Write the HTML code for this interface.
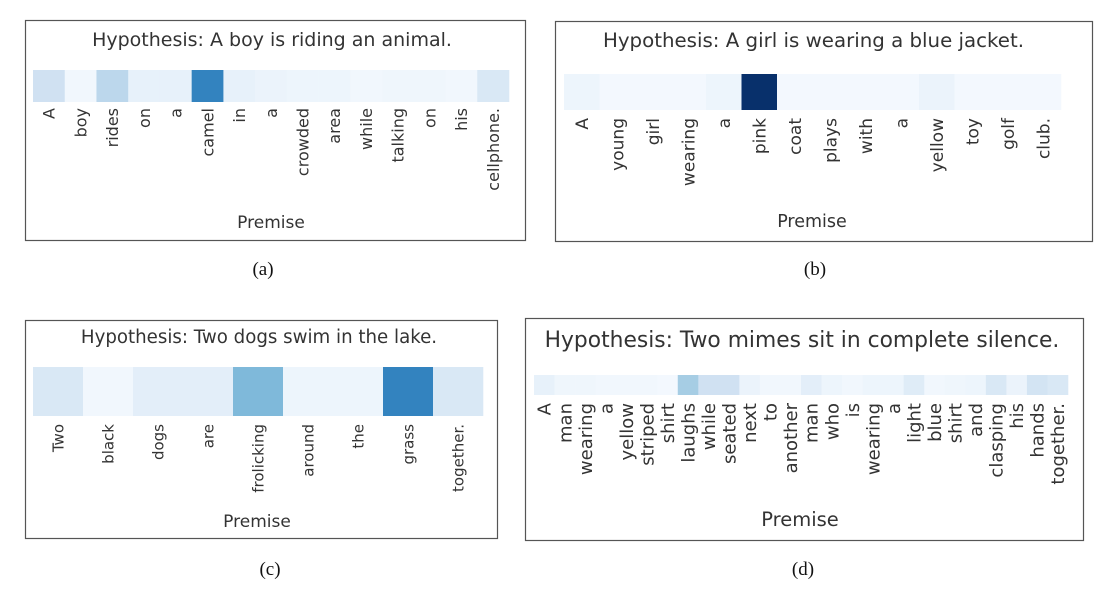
<!DOCTYPE html>
<html><head><meta charset="utf-8">
<style>
html,body{margin:0;padding:0;background:#fff;}
svg{display:block;}
</style></head>
<body>
<svg id="fig" width="1114" height="600" viewBox="0 0 1114 600" xmlns="http://www.w3.org/2000/svg"></svg>
<script>
const wordsA = ["A","boy","rides","on","a","camel","in","a","crowded","area","while","talking","on","his","cellphone."];
const valuesA = [0.2,0.03,0.28,0.08,0.08,0.68,0.08,0.06,0.05,0.05,0.03,0.04,0.04,0.03,0.15];
const wordsB = ["A","young","girl","wearing","a","pink","coat","plays","with","a","yellow","toy","golf","club."];
const valuesB = [0.05,0.02,0.02,0.02,0.05,1.0,0.02,0.02,0.02,0.02,0.06,0.02,0.02,0.02];
const wordsC = ["Two","black","dogs","are","frolicking","around","the","grass","together."];
const valuesC = [0.15,0.03,0.1,0.1,0.45,0.05,0.05,0.68,0.15];
const wordsD = ["A","man","wearing","a","yellow","striped","shirt","laughs","while","seated","next","to","another","man","who","is","wearing","a","light","blue","shirt","and","clasping","his","hands","together."];
const valuesD = [0.08,0.04,0.04,0.03,0.03,0.03,0.02,0.35,0.2,0.2,0.06,0.03,0.03,0.1,0.05,0.03,0.05,0.05,0.12,0.03,0.04,0.05,0.15,0.06,0.18,0.15];

const panels = [
 {id:"a",title:"Hypothesis: A boy is riding an animal.",words:wordsA,values:valuesA,
  frame:[25,20,500,220],hx:33,hy:70,hw:476,hh:32,ty:46,tf:19,lf:16,ly:108,px:271,py:228,pf:17,cap:[263,275]},
 {id:"b",title:"Hypothesis: A girl is wearing a blue jacket.",words:wordsB,values:valuesB,
  frame:[555,21,537,220],hx:564,hy:74,hw:497,hh:36,ty:47,tf:19.8,lf:17,ly:118,px:812,py:227,pf:17.5,cap:[815,275]},
 {id:"c",title:"Hypothesis: Two dogs swim in the lake.",words:wordsC,values:valuesC,
  frame:[25,320,472,218],hx:33,hy:367,hw:450,hh:49,ty:343,tf:18.2,lf:15,ly:424,px:257,py:527,pf:17,cap:[270,575]},
 {id:"d",title:"Hypothesis: Two mimes sit in complete silence.",words:wordsD,values:valuesD,
  frame:[525,318,558,222],hx:534,hy:375,hw:534,hh:20,ty:347,tf:21.8,lf:18,ly:403,px:800,py:526,pf:19.5,cap:[803,575]}
];

const stops=["#f7fbff","#deebf7","#c6dbef","#9ecae1","#6baed6","#4292c6","#2171b5","#08519c","#08306b"];
function hex(h){return [1,3,5].map(i=>parseInt(h.substr(i,2),16));}
function blues(v){v=Math.max(0,Math.min(1,v));const p=v*8,i=Math.min(7,Math.floor(p)),t=p-i;
 const a=hex(stops[i]),b=hex(stops[i+1]);return "rgb("+a.map((c,k)=>Math.round(c+(b[k]-c)*t)).join(",")+")";}

const NS="http://www.w3.org/2000/svg";
const svg=document.getElementById("fig");
function mk(tag,attrs,parent){const e=document.createElementNS(NS,tag);for(const k in attrs)e.setAttribute(k,attrs[k]);parent.appendChild(e);return e;}
const FONT='"DejaVu Sans","Liberation Sans",sans-serif';

panels.forEach(p=>{
 const g=mk("g",{},svg);
 
 
 const fr=mk("rect",{x:p.frame[0]+0.5,y:p.frame[1]+0.5,width:p.frame[2],height:p.frame[3],fill:"#fff",stroke:"#555","stroke-width":1.2},g);
 
 
 const t=mk("text",{x:p.hx+p.hw/2+1,y:p.ty,"text-anchor":"middle","font-family":FONT,"font-size":p.tf,fill:"#333"},g);
 t.textContent=p.title;
 
 
 const n=p.words.length, cw=p.hw/n;
 const xScale=i=>p.hx+i*cw;
 p.values.forEach((v,i)=>{
  const r=mk("rect",{x:xScale(i),y:p.hy,width:cw+0.3,height:p.hh,fill:blues(v)},g);
  
  
 });
 p.words.forEach((w,i)=>{
  const cx=xScale(i)+cw/2;
  const l=mk("text",{x:0,y:0,transform:"translate("+(cx+p.lf*0.36)+","+p.ly+") rotate(-90)","text-anchor":"end","font-family":FONT,"font-size":p.lf,fill:"#333"},g);
  l.textContent=w;
  
  
 });
 const pl=mk("text",{x:p.px,y:p.py,"text-anchor":"middle","font-family":FONT,"font-size":p.pf,fill:"#333"},g);
 pl.textContent="Premise";
 
 
 const c=mk("text",{x:p.cap[0],y:p.cap[1],"text-anchor":"middle","font-family":'"Liberation Serif",serif',"font-size":19,fill:"#111"},g);
 c.textContent="("+p.id+")";
 
 
});
</script>
</body></html>
